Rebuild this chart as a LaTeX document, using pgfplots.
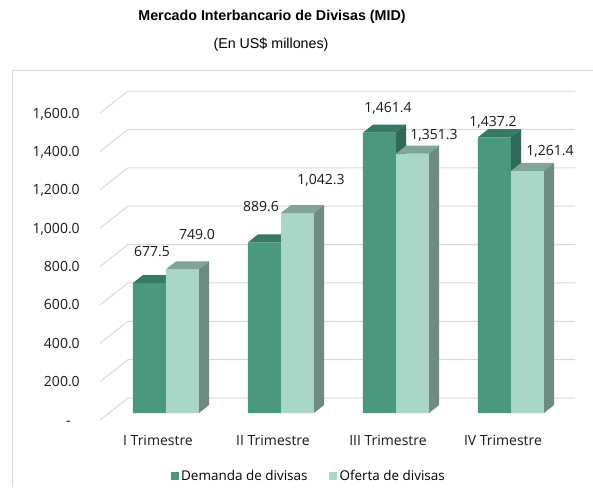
\documentclass[border=0pt]{standalone}
\usepackage{pgfplots}
\pgfplotsset{compat=1.18}
\usepackage{pgfplotstable}
\usepackage{fontspec}
\setmainfont{Open Sans}
\newfontfamily\arialfont{Liberation Sans}

\definecolor{demfront}{HTML}{4A997F}
\definecolor{demtop}{HTML}{367A62}
\definecolor{demside}{HTML}{2F6A55}
\definecolor{ofefront}{HTML}{AAD6C8}
\definecolor{ofetop}{HTML}{7EA598}
\definecolor{ofeside}{HTML}{6D8B81}
\definecolor{gridc}{HTML}{D9D9D9}

\pgfplotstableread{
idx dem ofe
0 677.5 749.0
1 889.6 1042.3
2 1461.4 1351.3
3 1437.2 1261.4
}\middata

% top and side face of one bar: #1 left edge, #2 value, #3 top colour, #4 side colour
\newcommand\barcube[4]{%
  \pgfmathsetmacro\vv{#2}%
  \pgfmathsetmacro\xl{#1}%
  \pgfmathsetmacro\xr{#1+0.287}%
  \pgfmathsetmacro\xla{#1+0.087}%
  \pgfmathsetmacro\xra{#1+0.374}%
  \pgfmathsetmacro\vt{#2+41.7}%
  \addplot[fill=#3, draw=none, forget plot] coordinates {(\xl,\vv) (\xla,\vt) (\xra,\vt) (\xr,\vv)};
  \addplot[fill=#4, draw=none, forget plot] coordinates {(\xr,0) (\xra,41.7) (\xra,\vt) (\xr,\vv)};
}

\begin{document}
\begin{tikzpicture}
\path[use as bounding box] (0,0) rectangle (444.75pt,-365.25pt);

\begin{axis}[
  at={(75pt,-315pt)}, anchor=south west,
  scale only axis, width=356.25pt, height=246.75pt,
  xmin=-0.5739, xmax=3.5565, ymin=-36.48, ymax=1678.2,
  clip=false,
  axis line style={draw=none}, major tick length=0pt,
  xtick={0,1,2,3},
  xticklabels={I Trimestre, II Trimestre, III Trimestre, IV Trimestre},
  xticklabel style={anchor=base, inner sep=0pt, yshift=-18.75pt, xshift=-6pt},
  ytick={0,200,...,1600},
  yticklabels={{-\kern6.75pt},200.0,400.0,600.0,800.0,{1,000.0},{1,200.0},{1,400.0},{1,600.0}},
  yticklabel style={anchor=base east, inner sep=0pt, xshift=-15pt, yshift=-9pt},
  tick label style={font=\fontsize{10.5}{12}\selectfont, text=black!90},
  legend style={at={(0.44,-0.171)}, anchor=center, draw=none, fill=none,
    legend columns=2, inner sep=0pt,
    font=\fontsize{10.1}{11}\selectfont,
    /tikz/every even column/.append style={column sep=14pt}},
  legend cell align=left,
]
% back wall grid with its diagonal floor lines
\pgfplotsinvokeforeach{0,200,...,1600}{
  \draw[gridc, line width=0.75pt] (axis cs:-0.5739,#1-36.48) -- (axis cs:-0.3304,#1+78.18) -- (axis cs:3.5565,#1+78.18);
}

\addplot[ybar, bar width=0.287, bar shift=-0.1435, fill=demfront, draw=none,
  legend image code/.code={\fill[demfront] (0pt,-3pt) rectangle (6pt,3pt);}]
  table[x=idx, y=dem] {\middata};
\addlegendentry{Demanda de divisas}
\pgfplotsinvokeforeach{0,1,2,3}{
  \pgfplotstablegetelem{#1}{dem}\of\middata
  \barcube{#1-0.287}{\pgfplotsretval}{demtop}{demside}
}

\addplot[ybar, bar width=0.287, bar shift=0.1435, fill=ofefront, draw=none,
  legend image code/.code={\fill[ofefront] (0pt,-3pt) rectangle (6pt,3pt);}]
  table[x=idx, y=ofe] {\middata};
\addlegendentry{Oferta de divisas}
\pgfplotsinvokeforeach{0,1,2,3}{
  \pgfplotstablegetelem{#1}{ofe}\of\middata
  \barcube{#1}{\pgfplotsretval}{ofetop}{ofeside}
}
\end{axis}

\begin{scope}[x=0.75pt, y=-0.75pt]
  \draw[gridc, line width=0.75pt] (12.5,487) -- (12.5,70) -- (593,70);
  \node[font=\arialfont\bfseries\fontsize{10.7}{13}\selectfont] at (272,17) {Mercado Interbancario de Divisas (MID)};
  \node[font=\arialfont\fontsize{10.7}{13}\selectfont] at (271,45) {(En US\$ millones)};
  \begin{scope}[every node/.style={font=\fontsize{10.5}{12}\selectfont, text=black!90}]
    \node at (152,252) {677.5};
    \node at (197,235) {749.0};
    \node at (261,207) {889.6};
    \node at (321,180) {1,042.3};
    \node at (388,108) {1,461.4};
    \node at (434,135) {1,351.3};
    \node at (493,122) {1,437.2};
    \node at (550,151) {1,261.4};
  \end{scope}
\end{scope}
\end{tikzpicture}
\end{document}
